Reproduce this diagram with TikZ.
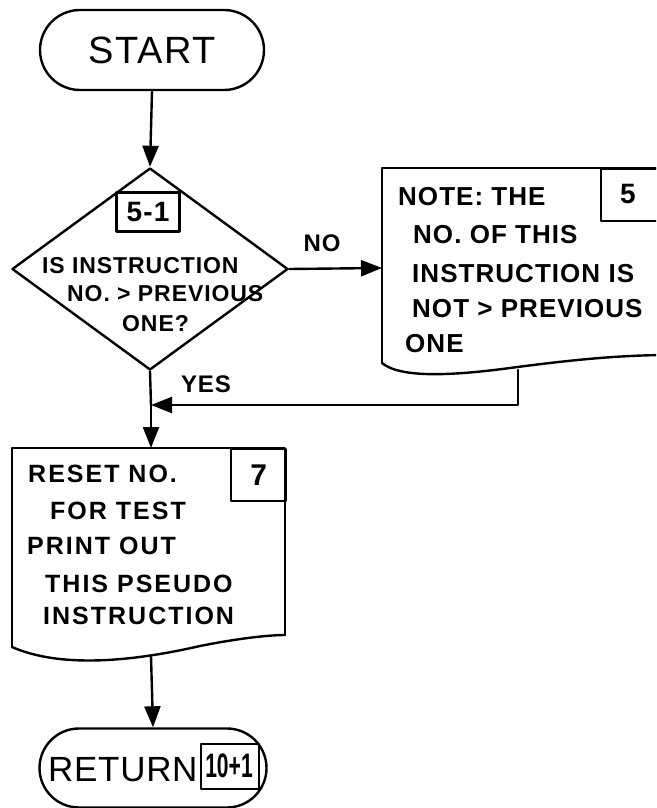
\documentclass[tikz,border=0pt]{standalone}
\usepackage{fontspec}
\usepackage{graphicx}
\setmainfont{Liberation Sans}
\newfontfamily\handA[LetterSpace=4]{Liberation Sans Bold}
\newfontfamily\handB[LetterSpace=8]{Liberation Sans Bold}
\newfontfamily\handt[LetterSpace=4]{Liberation Sans}
\newfontfamily\handr[LetterSpace=2]{Liberation Sans}
\usetikzlibrary{shapes.geometric,shapes.misc,arrows.meta}
\tikzset{
  ln/.style={line width=2.4pt, line join=round, line cap=round},
  term/.style={ln, draw, rounded rectangle, inner sep=0pt},
  numbox/.style={ln, draw, rectangle, inner sep=0pt, font=\handA\fontsize{28}{28}\selectfont},
  txt/.style={anchor=base west, inner sep=0pt, font=\handA\fontsize{23}{23}\selectfont},
  ntxt/.style={txt, font=\handA\fontsize{26}{26}\selectfont},
  rtxt/.style={txt, font=\handB\fontsize{25}{25}\selectfont},
  arr/.style={ln, -{Triangle[width=16pt,length=21pt]}},
  lbl/.style={inner sep=0pt, font=\handA\fontsize{24}{24}\selectfont}
}
\begin{document}
\begin{tikzpicture}[x=1pt,y=-1pt]
\useasboundingbox (0,0) rectangle (656,808);
\clip (0,0) rectangle (656,808);

% START
\node[term, minimum width=224pt, minimum height=80pt, font=\handt\fontsize{38}{38}\selectfont] (start) at (152,50) {START};

% decision
\node[ln, draw, diamond, minimum width=276pt, minimum height=202pt, inner sep=0pt] (dec) at (150,269) {};
\node[numbox, minimum width=63pt, minimum height=39pt] (b51) at (148,212) {5-1};
\node[txt] (d1) at (42,273) {IS INSTRUCTION};
\node[txt] (d2) at (67,301) {NO. > PREVIOUS};
\node[txt] (d3) at (122,331) {ONE?};

% note box
\coordinate (nl) at (382,268);
\draw[ln] (382,363) -- (382,168) -- (670,168);
\draw[ln] (382,363) .. controls (400,378) and (450,376) .. (510,368) .. controls (570,360) and (620,355) .. (670,355);
\node[numbox, minimum width=70pt, minimum height=52pt, anchor=north west] (b5) at (600,168) {};
\node[inner sep=0pt, font=\handA\fontsize{28}{28}\selectfont] (b5t) at (628,194) {5};
\node[ntxt] (n1) at (398,205) {NOTE: THE};
\node[ntxt] (n2) at (413,243) {NO. OF THIS};
\node[ntxt] (n3) at (412,282) {INSTRUCTION IS};
\node[ntxt] (n4) at (412,317) {NOT > PREVIOUS};
\node[ntxt] (n5) at (405,352) {ONE};
\coordinate (nb) at (518,370);

% reset box
\coordinate (rt) at (151,448);
\draw[ln] (12,647) -- (12,448) -- (285,448) -- (285,635);
\draw[ln] (12,647) .. controls (60,668) and (130,662) .. (200,646) .. controls (240,638) and (270,635) .. (285,635);
\node[numbox, minimum width=55pt, minimum height=52pt, anchor=north west, font=\handA\fontsize{30}{30}\selectfont] (b7) at (230,448) {7};
\node[rtxt] (r1) at (28,482) {RESET NO.};
\node[rtxt] (r2) at (50,519) {FOR TEST};
\node[rtxt] (r3) at (27,554) {PRINT OUT};
\node[rtxt] (r4) at (45,592) {THIS PSEUDO};
\node[rtxt] (r5) at (43,624) {INSTRUCTION};
\coordinate (rb) at (151,656);

% RETURN
\node[term, minimum width=227pt, minimum height=79pt] (ret) at (153,768) {};
\node[inner sep=0pt, anchor=base west, font=\handr\fontsize{35}{35}\selectfont] (rett) at (48,781) {RETURN};
\node[ln, draw, rectangle, minimum width=58pt, minimum height=45pt, inner sep=0pt, anchor=north west] (b10) at (200,743) {};
\node[inner sep=0pt, font=\bfseries\fontsize{34}{34}\selectfont] (b10t) at (229,766) {\scalebox{0.62}[1]{10+1}};

% connectors
\draw[arr] (start.south) -- (dec.north);
\draw[arr] (dec.east) -- (nl);
\node[lbl] (no) at (322,243) {NO};
\coordinate (merge) at (151,405);
\draw[ln] (dec.south) -- (merge);
\draw[arr] (merge) -- (rt);
\draw[arr] (nb) |- (merge);
\node[lbl] (yes) at (206,384) {YES};
\draw[arr] (rb) -- (ret.north);
\end{tikzpicture}
\end{document}
